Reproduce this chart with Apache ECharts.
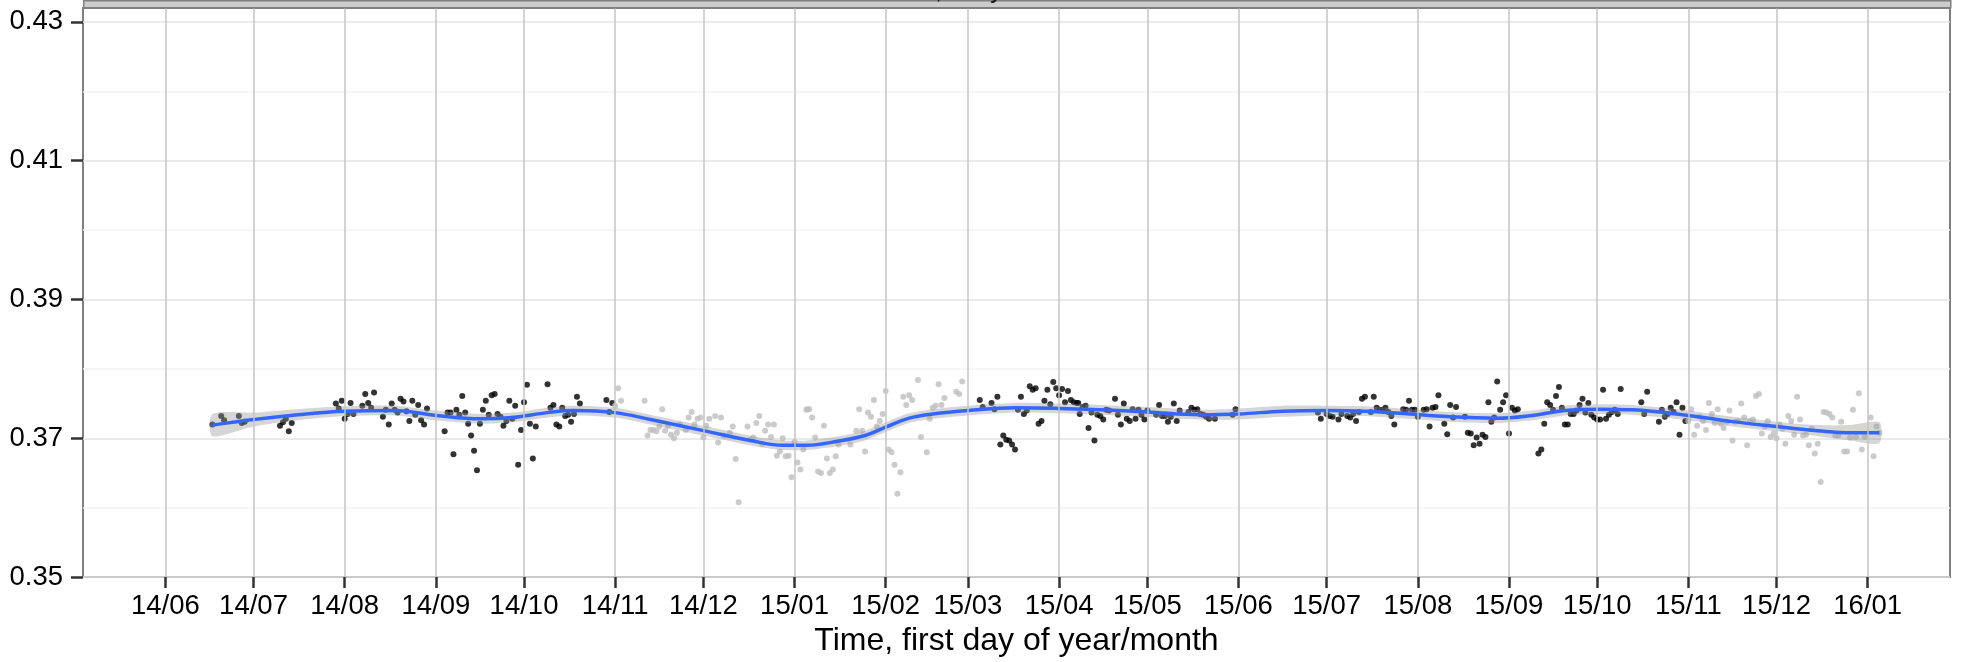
<!DOCTYPE html>
<html>
<head>
<meta charset="utf-8">
<script src="https://cdn.jsdelivr.net/npm/echarts@6/dist/echarts.min.js"></script>
<style>
html,body{margin:0;padding:0;background:#fff;}
#chart{width:1964px;height:662px;}
</style>
</head>
<body>
<div id="chart"></div>
<script>
// ---- data (days counted from 2014-06-01) ----
const baseDate = '2014-06-01';
const tickDays = [0,30,61,92,122,153,183,214,245,273,304,334,365,395,426,457,487,518,548,579];
const tickLabels = ['14/06','14/07','14/08','14/09','14/10','14/11','14/12','15/01','15/02','15/03','15/04','15/05','15/06','15/07','15/08','15/09','15/10','15/11','15/12','16/01'];
const yTicks = [0.35,0.37,0.39,0.41,0.43];

const blackDays = [16,19,20,25,26,27,39,40,41,42,43,
58,59,60,61,62,63,64,67,68,69,70,71,74,75,76,77,78,79,80,81,82,83,84,85,86,87,88,89,
95,96,97,98,99,100,101,102,103,104,105,106,107,108,109,110,111,112,113,114,115,116,117,118,119,120,121,122,123,124,125,126,130,131,132,133,134,135,136,137,138,139,140,141,150,151,152,
277,278,281,282,283,284,285,286,287,288,289,290,291,292,293,294,295,296,297,298,299,300,301,302,303,304,305,306,307,308,309,310,310.5,311,312,313,314,315,316,317,318,319,320,321,323,324,325,326,327,328,329,330,331,332,333,334,337,338,339,340,341,342,343,344,345,348,349,350,351,352,353,354,355,357,363,364,
392,393,395,396,397,399,400,402,403,404,405,406,407,408,410,411,412,413,414,415,416,417,418,421,422,423,424,425,426,428,429,430,431,432,433,435,436,437,438,439,442,443,444,445,446,447,448,449,450,451,452,453,454,455,456,457,458,459,460,467,468,469,470,471,472,473,474,475,476,477,478,479,480,481,482,483,484,485,486,487,488,489,490,491,492,493,494,495,502,503,504,508,509,510,511,512,513,514,515,516,517];
const blackValues = [0.3720,0.3732,0.3726,0.3732,0.3722,0.3724,0.3718,0.3723,0.3728,0.3710,0.3722,
0.3750,0.3743,0.3754,0.3728,0.3735,0.3751,0.3735,0.3747,0.3764,0.3751,0.3744,0.3766,0.3731,0.3741,0.3720,0.3750,0.3741,0.3737,0.3757,0.3753,0.3739,0.3725,0.3754,0.3734,0.3748,0.3726,0.3720,0.3743,
0.3710,0.3737,0.3737,0.3677,0.3741,0.3734,0.3761,0.3737,0.3721,0.3704,0.3682,0.3654,0.3721,0.3741,0.3754,0.3734,0.3762,0.3764,0.3735,0.3731,0.3718,0.3725,0.3754,0.3728,0.3747,0.3662,0.3712,0.3752,0.3777,0.3721,0.3671,0.3717,0.3778,0.3744,0.3748,0.3720,0.3717,0.3744,0.3732,0.3734,0.3724,0.3735,0.3760,0.3750,0.3755,0.3738,0.3751,
0.3755,0.3745,0.3751,0.3742,0.3760,0.3691,0.3704,0.3698,0.3697,0.3691,0.3684,0.3741,0.3760,0.3735,0.3740,0.3775,0.3770,0.3772,0.3721,0.3725,0.3754,0.3770,0.3749,0.3781,0.3772,0.3762,0.3771,0.3752,0.3768,0.3755,0.3752,0.3751,0.3751,0.3735,0.3745,0.3747,0.3715,0.3737,0.3697,0.3734,0.3732,0.3727,0.3741,0.3740,0.3757,0.3734,0.3720,0.3750,0.3728,0.3725,0.3742,0.3728,0.3741,0.3734,0.3727,0.3740,0.3734,0.3748,0.3732,0.3732,0.3724,0.3731,0.3750,0.3725,0.3740,0.3738,0.3744,0.3741,0.3742,0.3735,0.3734,0.3731,0.3728,0.3728,0.3734,0.3742,
0.3737,0.3728,0.3735,0.3732,0.3731,0.3727,0.3735,0.3732,0.3730,0.3735,0.3725,0.3738,0.3757,0.3760,0.3738,0.3760,0.3744,0.3741,0.3741,0.3744,0.3738,0.3732,0.3720,0.3742,0.3741,0.3754,0.3741,0.3741,0.3731,0.3741,0.3742,0.3717,0.3744,0.3745,0.3762,0.3721,0.3706,0.3748,0.3730,0.3745,0.3731,0.3708,0.3707,0.3690,0.3701,0.3692,0.3705,0.3702,0.3752,0.3724,0.3730,0.3782,0.3741,0.3752,0.3762,0.3707,0.3744,0.3740,0.3742,0.3678,0.3684,0.3721,0.3752,0.3748,0.3741,0.3761,0.3774,0.3744,0.3720,0.3720,0.3735,0.3735,0.3740,0.3748,0.3757,0.3737,0.3751,0.3734,0.3730,0.3727,0.3727,0.3770,0.3728,0.3734,0.3738,0.3741,0.3735,0.3771,0.3752,0.3735,0.3767,0.3724,0.3741,0.3731,0.3735,0.3744,0.3738,0.3752,0.3705,0.3744,0.3725];

const grayDays = [153,154,155,163,164,165,166,167,168,169,170,171,172,173,174,175,177,178,179,180,181,182,183,184,185,187,188,189,190,192,193,194,195,198,199,200,201,202,203,204,205,206,207,208,209,210,211,212,213,214,215,216,217,218,218.5,219,220,221,222,223,224,225,226,227,228,229,233,235,236,237,238,239,240,241,242,243,244,245,246,247,248,249,250,251,252,253,254,256,257,259,260,261,262,263,264,265,269,270,271,
518,519,520,521,522,523,524,525,526,527,528,529,530,531,532,533,534,535,536,537,538,539,540,541,542,543,544,545,546,547,548,549,550,551,552,553,554,555,556,557,558,559,560,561,562,563,564,565,566,567,568,569,570,571,572,573,574,575,576,577,578,580,581,582,583];
const grayValues = [0.3747,0.3772,0.3754,0.3754,0.3704,0.3712,0.3712,0.3710,0.3717,0.3742,0.3711,0.3718,0.3705,0.3700,0.3708,0.3720,0.3712,0.3730,0.3738,0.3720,0.3728,0.3730,0.3701,0.3718,0.3728,0.3732,0.3694,0.3730,0.3704,0.3708,0.3717,0.3670,0.3608,0.3717,0.3698,0.3701,0.3722,0.3732,0.3692,0.3711,0.3720,0.3702,0.3720,0.3675,0.3681,0.3700,0.3674,0.3675,0.3644,0.3695,0.3665,0.3655,0.3684,0.3741,0.3742,0.3742,0.3730,0.3701,0.3652,0.3650,0.3718,0.3671,0.3650,0.3655,0.3674,0.3691,0.3691,0.3711,0.3742,0.3711,0.3681,0.3737,0.3731,0.3755,0.3717,0.3725,0.3735,0.3768,0.3684,0.3680,0.3662,0.3620,0.3651,0.3760,0.3748,0.3762,0.3755,0.3784,0.3702,0.3680,0.3728,0.3744,0.3747,0.3778,0.3748,0.3758,0.3767,0.3764,0.3782,
0.3725,0.3742,0.3705,0.3718,0.3731,0.3725,0.3712,0.3751,0.3735,0.3722,0.3742,0.3721,0.3715,0.3724,0.3740,0.3697,0.3724,0.3725,0.3750,0.3730,0.3690,0.3725,0.3727,0.3761,0.3764,0.3707,0.3717,0.3725,0.3702,0.3707,0.3700,0.3720,0.3714,0.3692,0.3732,0.3725,0.3705,0.3760,0.3727,0.3704,0.3705,0.3690,0.3714,0.3678,0.3692,0.3637,0.3738,0.3737,0.3735,0.3730,0.3704,0.3704,0.3724,0.3681,0.3681,0.3701,0.3741,0.3702,0.3765,0.3684,0.3702,0.3730,0.3674,0.3717,0.3708];

const smoothDays = [16,30,45,61,78,92,107,118,130,139,153,165,183,200,210,218,229,238,245,253,261,273,289,304,318,334,352,365,380,395,408,420,437,453,465,476,488,499,516,533,548,562,573,583];
const smoothValues = [0.3719,0.3727,0.3734,0.3739,0.3740,0.3733,0.3728,0.3730,0.3737,0.3740,0.3737,0.3727,0.3711,0.3696,0.3690,0.3690,0.3696,0.3704,0.3716,0.3729,0.3735,0.3740,0.3744,0.3743,0.3741,0.3738,0.3734,0.3735,0.3739,0.3740,0.3739,0.3736,0.3731,0.3729,0.3733,0.3740,0.3742,0.3741,0.3734,0.3724,0.3717,0.3711,0.3708,0.3708];
const smoothHalfWidth = [0.0016,0.0010,0.0008,0.0007,0.0007,0.0007,0.0007,0.0007,0.0007,0.0007,0.0007,0.0007,0.0007,0.0007,0.0007,0.0007,0.0007,0.0007,0.0007,0.0007,0.0007,0.0007,0.0007,0.0007,0.0007,0.0007,0.0007,0.0008,0.0008,0.0007,0.0007,0.0007,0.0007,0.0007,0.0007,0.0007,0.0007,0.0007,0.0007,0.0007,0.0007,0.0008,0.0011,0.0015];

// ---- build ----
const DAY = 86400000;
const BASE = Date.parse(baseDate + 'T00:00:00Z');
const t = d => BASE + d * DAY;
const tickTimes = tickDays.map(t);
const labelMap = {};
tickTimes.forEach((v, i) => { labelMap[v] = tickLabels[i]; });
const FONT = 'Liberation Sans, Arial, Helvetica, sans-serif';

const blackData = blackDays.map((d, i) => [t(d), blackValues[i]]);
const grayData = grayDays.map((d, i) => [t(d), grayValues[i]]);
const bandData = smoothDays.map((d, i) => [t(d), smoothValues[i] - smoothHalfWidth[i], smoothValues[i] + smoothHalfWidth[i]]);
const lineData = smoothDays.map((d, i) => [t(d), smoothValues[i]]);

function renderBand(params, api) {
  if (params.dataIndex !== 0) return;
  const upper = [], lower = [];
  for (let i = 0; i < bandData.length; i++) {
    upper.push(api.coord([bandData[i][0], bandData[i][2]]));
    lower.push(api.coord([bandData[i][0], bandData[i][1]]));
  }
  lower.reverse();
  return {
    type: 'group',
    children: [{
      type: 'polygon',
      shape: {points: upper.concat(lower), smooth: 0.25},
      style: {fill: 'rgba(153,153,153,0.4)', stroke: null}
    }]
  };
}

const chart = echarts.init(document.getElementById('chart'), null, {renderer: 'canvas'});
chart.setOption({
  animation: false,
  backgroundColor: '#ffffff',
  textStyle: {fontFamily: FONT},
  grid: {left: 83, right: 14, top: 8, bottom: 80, show: true, borderColor: '#7f7f7f', borderWidth: 2, backgroundColor: 'transparent'},
  graphic: [
    {type: 'rect', left: 83, top: 0, shape: {width: 1867, height: 7}, style: {fill: '#cccccc', stroke: '#7f7f7f', lineWidth: 1.5}, z: 100},
    {type: 'text', x: 1016, y: -9, style: {text: 'Ratio, daily mean values', fontSize: 26, fontFamily: FONT, fill: '#1a1a1a', align: 'center', verticalAlign: 'middle'}, z: 101}
  ],
  xAxis: {
    type: 'value', min: t(-28), max: t(607),
    axisLine: {show: false},
    axisTick: {show: true, length: 11, lineStyle: {color: '#333', width: 2.5}, customValues: tickTimes},
    axisLabel: {customValues: tickTimes, formatter: v => labelMap[v] || '', fontSize: 27.5, color: '#000', margin: 15, fontFamily: FONT, hideOverlap: false},
    splitLine: {show: false},
    name: 'Time, first day of year/month', nameLocation: 'middle', nameGap: 43,
    nameTextStyle: {fontSize: 32, color: '#000', fontFamily: FONT}
  },
  yAxis: {
    type: 'value', min: 0.35, max: 0.432, interval: 0.02,
    axisLine: {show: false},
    axisTick: {show: true, length: 12, lineStyle: {color: '#333', width: 2.5}, customValues: yTicks},
    axisLabel: {customValues: yTicks, formatter: v => v.toFixed(2), fontSize: 27.5, color: '#000', margin: 20, fontFamily: FONT},
    splitLine: {show: true, lineStyle: {color: '#e3e3e3', width: 1.5}},
    minorTick: {show: false, splitNumber: 2},
    minorSplitLine: {show: true, lineStyle: {color: '#f4f4f4', width: 1.5}}
  },
  series: [
    {type: 'line', data: [], z: 1, silent: true,
     markLine: {silent: true, symbol: 'none', label: {show: false}, animation: false,
       lineStyle: {color: '#c4c4c4', width: 1.5, type: 'solid'},
       data: tickTimes.map(v => ({xAxis: v}))}},
    {type: 'scatter', data: blackData, symbolSize: 6, itemStyle: {color: '#000000'}, z: 2, silent: true},
    {type: 'scatter', data: grayData, symbolSize: 6, itemStyle: {color: '#bebebe'}, z: 2, silent: true},
    {type: 'custom', data: bandData, renderItem: renderBand, encode: {x: 0, y: [1, 2]}, z: 3, silent: true, clip: true},
    {type: 'line', data: lineData, smooth: 0.4, symbol: 'none', lineStyle: {color: '#3366ff', width: 3.5}, z: 4, silent: true}
  ]
});
</script>
</body>
</html>
